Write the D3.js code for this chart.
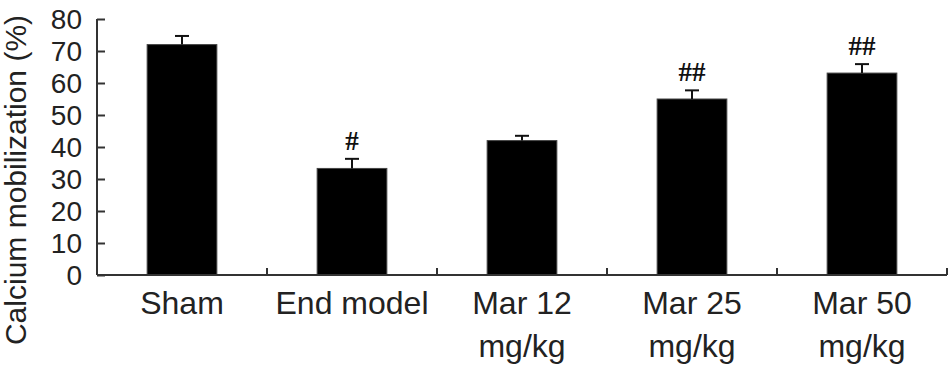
<!DOCTYPE html>
<html>
<head>
<meta charset="utf-8">
<script src="https://cdn.jsdelivr.net/npm/d3@7"></script>
<style>
  body { margin: 0; background: #fff; }
  svg { display: block; }
</style>
</head>
<body>
<svg id="chart" width="952" height="368"></svg>
<script>
// Chart values
const categories = ['Sham', 'End model', 'Mar 12\nmg/kg', 'Mar 25\nmg/kg', 'Mar 50\nmg/kg'];
const means = [72, 33.3, 42, 55, 63.1];
const errors = [2.7, 3, 1.5, 2.7, 2.8];
const marks = ['', '#', '', '##', '##'];
const yTicks = [0, 10, 20, 30, 40, 50, 60, 70, 80];

const svg = d3.select('#chart');

// Plot frame
const margin = { top: 19, right: 5, bottom: 93, left: 97 };
const width = 952 - margin.left - margin.right;
const height = 368 - margin.top - margin.bottom;

const chart = svg.append('g')
  .attr('transform', `translate(${margin.left},${margin.top})`);

const x = d3.scaleBand()
  .domain(categories)
  .range([0, width])
  .paddingInner(0.59)
  .paddingOuter(0.295);

const y = d3.scaleLinear()
  .domain([0, 80])
  .range([height, 0]);

// Bars
chart.selectAll('.bar')
  .data(categories)
  .enter()
  .append('rect')
  .attr('class', 'bar')
  .attr('x', (d) => x(d))
  .attr('y', (d, i) => y(means[i]))
  .attr('width', x.bandwidth())
  .attr('height', (d, i) => height - y(means[i]))
  .attr('fill', '#000')
  .attr('stroke', '#444')
  .attr('stroke-width', 1);

// Error bars (upper only)
const capHalf = 7;
categories.forEach((c, i) => {
  const cx = x(c) + x.bandwidth() / 2;
  const top = y(means[i] + errors[i]);
  chart.append('line')
    .attr('x1', cx).attr('x2', cx)
    .attr('y1', y(means[i])).attr('y2', top)
    .attr('stroke', '#111').attr('stroke-width', 2);
  chart.append('line')
    .attr('x1', cx - capHalf).attr('x2', cx + capHalf)
    .attr('y1', top).attr('y2', top)
    .attr('stroke', '#111').attr('stroke-width', 2);
  if (marks[i]) {
    chart.append('text')
      .attr('x', cx)
      .attr('y', top - 9)
      .attr('text-anchor', 'middle')
      .attr('font-family', 'Liberation Serif, serif')
      .attr('font-size', 27)
      .attr('font-weight', 'bold')
      .attr('fill', '#111')
      .text(marks[i]);
  }
});

// Y axis, ticks pointing inward
const yAxis = chart.append('g')
  .call(d3.axisRight(y).tickValues(yTicks).tickSize(8).tickFormat(''));
yAxis.select('.domain').attr('stroke', '#333').attr('stroke-width', 2).attr('d', `M0,0V${height}`);
yAxis.selectAll('.tick line').attr('stroke', '#333').attr('stroke-width', 2);

chart.selectAll('.ytick-label')
  .data(yTicks)
  .enter()
  .append('text')
  .attr('class', 'ytick-label')
  .attr('x', -15)
  .attr('y', (d) => y(d))
  .attr('dy', '0.36em')
  .attr('text-anchor', 'end')
  .attr('font-family', 'Liberation Sans, Arial, sans-serif')
  .attr('font-size', 28)
  .attr('fill', '#222')
  .text((d) => d);

// X axis line with inward ticks at band boundaries
chart.append('line')
  .attr('x1', 0).attr('x2', width)
  .attr('y1', height).attr('y2', height)
  .attr('stroke', '#333').attr('stroke-width', 2);

const step = x.step();
chart.selectAll('.xtick')
  .data(categories)
  .enter()
  .append('line')
  .attr('class', 'xtick')
  .attr('x1', (d) => x(d) + x.bandwidth() / 2 + step / 2)
  .attr('x2', (d) => x(d) + x.bandwidth() / 2 + step / 2)
  .attr('y1', height)
  .attr('y2', height - 7)
  .attr('stroke', '#333')
  .attr('stroke-width', 2);

// Category labels
categories.forEach((c) => {
  const t = chart.append('text')
    .attr('x', x(c) + x.bandwidth() / 2)
    .attr('y', height + 39)
    .attr('text-anchor', 'middle')
    .attr('font-family', 'Liberation Sans, Arial, sans-serif')
    .attr('font-size', 32)
    .attr('fill', '#222');
  c.split('\n').forEach((line, k) => {
    t.append('tspan')
      .attr('x', x(c) + x.bandwidth() / 2)
      .attr('dy', k === 0 ? 0 : 43)
      .text(line);
  });
});

// Y axis title
svg.append('text')
  .attr('transform', 'translate(26,180) rotate(-90)')
  .attr('text-anchor', 'middle')
  .attr('font-family', 'Liberation Sans, Arial, sans-serif')
  .attr('font-size', 30)
  .attr('fill', '#222')
  .text('Calcium mobilization (%)');
</script>
</body>
</html>
